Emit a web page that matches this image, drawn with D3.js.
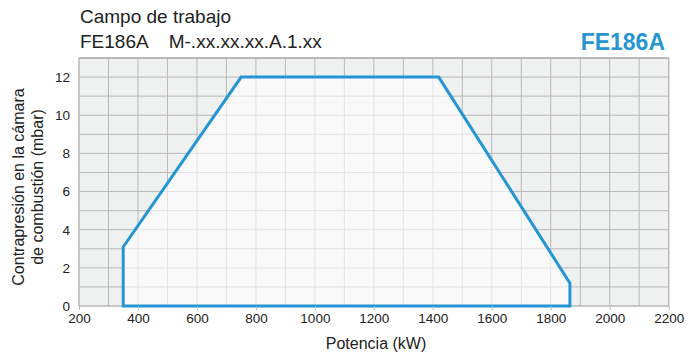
<!DOCTYPE html>
<html><head><meta charset="utf-8">
<script src="https://cdn.jsdelivr.net/npm/d3@7"></script>
<style>body{margin:0;background:#fff;}svg{display:block;font-family:"Liberation Sans",Arial,sans-serif;}</style>
</head><body><svg id="c" width="699" height="356"></svg>
<script>
const xTicks = [200,400,600,800,1000,1200,1400,1600,1800,2000,2200];
const yTicks = [0,2,4,6,8,10,12];
const powerKW = [350, 350, 750, 1420, 1865, 1865];
const pressureMbar = [0, 3.1, 12, 12, 1.2, 0];

const svg = d3.select("#c");
const L=79, R=668.7, T=58, B=306;
const x = d3.scaleLinear().domain([200,2200]).range([L,R]);
const y = d3.scaleLinear().domain([0,13]).range([B,T]);

svg.append("rect").attr("x",L).attr("y",T).attr("width",R-L).attr("height",B-T).attr("fill","#eff0f0");
const g = svg.append("g");
for(let v=300; v<2200; v+=100) g.append("line").attr("x1",x(v)).attr("x2",x(v)).attr("y1",T).attr("y2",B).attr("stroke","#b9b9b9").attr("stroke-width",1);
for(let v=1; v<13; v++) g.append("line").attr("x1",L).attr("x2",R).attr("y1",y(v)).attr("y2",y(v)).attr("stroke","#b9b9b9").attr("stroke-width",1);

const pts = powerKW.map((p,i)=>[x(p), y(pressureMbar[i])]);
svg.append("path").attr("d", d3.line()(pts)+"Z").attr("fill","#fff").attr("fill-opacity",0.6).attr("stroke","none");

// frame
svg.append("line").attr("x1",L).attr("x2",R).attr("y1",T).attr("y2",T).attr("stroke","#b9b9b9").attr("stroke-width",2);
svg.append("line").attr("x1",L).attr("x2",L).attr("y1",T).attr("y2",B).attr("stroke","#b9b9b9").attr("stroke-width",1.5);
svg.append("line").attr("x1",R).attr("x2",R).attr("y1",T).attr("y2",B).attr("stroke","#b9b9b9").attr("stroke-width",1.5);
svg.append("line").attr("x1",L).attr("x2",R).attr("y1",B).attr("y2",B).attr("stroke","#b9b9b9").attr("stroke-width",1.5);

svg.append("path").attr("d", d3.line()(pts)+"Z").attr("fill","none").attr("stroke","#2596d3").attr("stroke-width",3).attr("stroke-linejoin","miter");

const xa = svg.append("g").attr("transform",`translate(0,${B})`).call(d3.axisBottom(x).tickValues(xTicks).tickSize(4).tickPadding(3).tickFormat(d3.format("d")));
xa.select(".domain").remove();
xa.selectAll("line").attr("stroke","#b9b9b9");
xa.selectAll("text").attr("font-size",13.5).attr("fill","#222").attr("font-family","Liberation Sans, Arial, sans-serif");
const ya = svg.append("g").attr("transform",`translate(${L},0)`).call(d3.axisLeft(y).tickValues(yTicks).tickSize(0).tickPadding(9));
ya.select(".domain").remove();
ya.selectAll("text").attr("font-size",13.5).attr("fill","#222").attr("font-family","Liberation Sans, Arial, sans-serif");

svg.append("text").attr("x",80).attr("y",23).attr("font-size",19).attr("fill","#222").text("Campo de trabajo");
svg.append("text").attr("x",80).attr("y",48).attr("font-size",19).attr("fill","#222").attr("xml:space","preserve").text("FE186A    M-.xx.xx.xx.A.1.xx");
svg.append("text").attr("x",665).attr("y",50).attr("text-anchor","end").attr("font-size",23).attr("font-weight","bold").attr("fill","#2596d3").text("FE186A");
svg.append("text").attr("x",376).attr("y",349).attr("text-anchor","middle").attr("font-size",16).attr("fill","#222").text("Potencia (kW)");
const yl = svg.append("text").attr("transform",`translate(24,187) rotate(-90)`).attr("text-anchor","middle").attr("font-size",16).attr("fill","#222");
yl.append("tspan").attr("x",0).attr("dy",0).text("Contrapresión en la cámara");
yl.append("tspan").attr("x",0).attr("dy",19).text("de combustión (mbar)");
</script></body></html>
